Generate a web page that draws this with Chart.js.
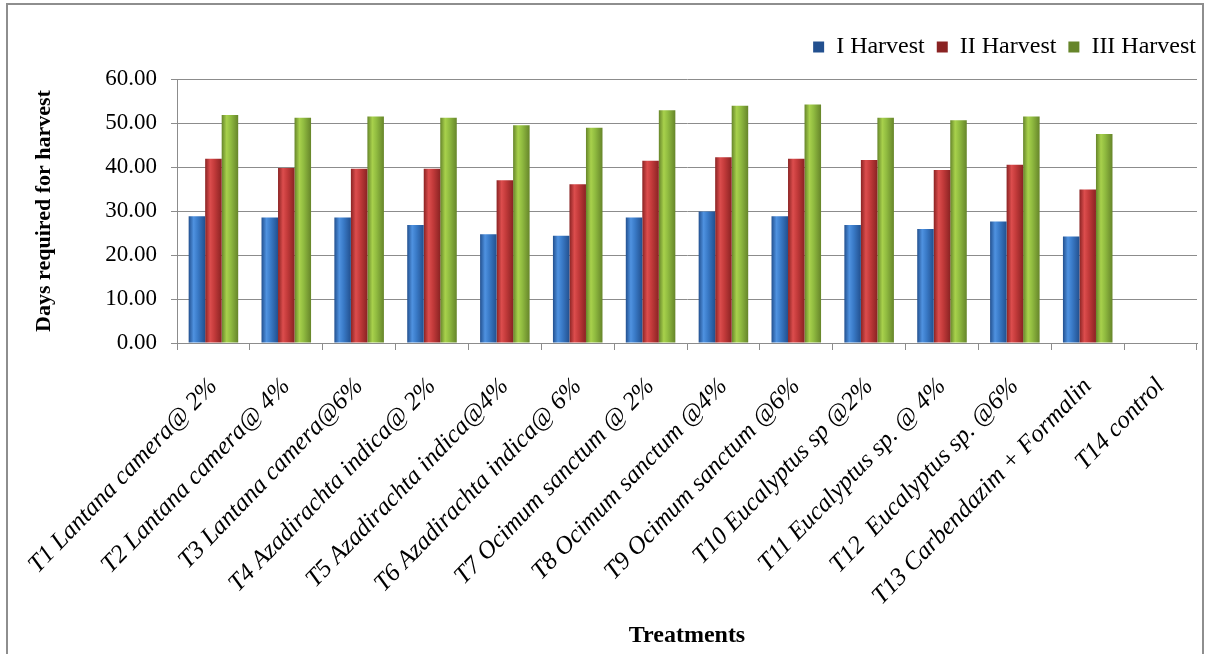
<!DOCTYPE html>
<html>
<head>
<meta charset="utf-8">
<script src="https://cdn.jsdelivr.net/npm/chart.js@4"></script>
<style>
  body { margin: 0; background: #fff; overflow: hidden; }
  #frame { position: absolute; left: 6px; top: 3px; width: 1194px; height: 660px;
           border: 2px solid #8e8e8e; border-bottom: none; }
  #wrap { position: absolute; left: 0; top: 0; width: 1205px; height: 654px; }
</style>
</head>
<body>
<div id="frame"></div>
<div id="wrap"><canvas id="graph"></canvas></div>
<script>
const TREATMENTS = [
    "T1 Lantana camera@ 2%",
    "T2 Lantana camera@ 4%",
    "T3 Lantana camera@6%",
    "T4 Azadirachta indica@ 2%",
    "T5 Azadirachta indica@4%",
    "T6 Azadirachta indica@ 6%",
    "T7 Ocimum sanctum @ 2%",
    "T8 Ocimum sanctum @4%",
    "T9 Ocimum sanctum @6%",
    "T10 Eucalyptus sp @2%",
    "T11 Eucalyptus sp. @ 4%",
    "T12  Eucalyptus sp. @6%",
    "T13 Carbendazim + Formalin",
    "T14 control"
];
const HARVEST_1 = [28.8, 28.5, 28.5, 26.8, 24.7, 24.4, 28.5, 29.9, 28.8, 26.8, 25.9, 27.6, 24.2, null];
const HARVEST_2 = [41.9, 39.8, 39.6, 39.6, 37.0, 36.1, 41.4, 42.2, 41.9, 41.6, 39.3, 40.5, 34.9, null];
const HARVEST_3 = [51.8, 51.2, 51.5, 51.2, 49.5, 48.9, 52.9, 53.9, 54.2, 51.2, 50.6, 51.5, 47.5, null];
const SERIES = ["I Harvest", "II Harvest", "III Harvest"];
const Y_TICKS = [0, 10, 20, 30, 40, 50, 60];

const CAT_PCT = 0.68;
const SERIF = "'Liberation Serif', 'Times New Roman', serif";

// dark edge / light middle, like the office "cylinder" look
const SHADES = [
    { dark: "#22508f", light: "#4f92e0", flat: "#3a7bc8" },
    { dark: "#8a2323", light: "#dc4d4d", flat: "#c43b3b" },
    { dark: "#66852a", light: "#a8d14c", flat: "#90bb40" }
];

function barFill(k) {
    return function (ctx) {
        const s = SHADES[k];
        const chart = ctx.chart;
        const xs = chart.scales.x;
        if (ctx.type !== "data" || !xs || !chart.chartArea) return s.flat;
        const w = (xs.width / TREATMENTS.length) * CAT_PCT / 3;
        const left = xs.getPixelForValue(ctx.dataIndex) + (k - 1.5) * w;
        const g = chart.ctx.createLinearGradient(left, 0, left + w, 0);
        g.addColorStop(0, s.dark);
        g.addColorStop(0.3, s.light);
        g.addColorStop(0.55, s.flat);
        g.addColorStop(1, s.dark);
        return g;
    };
}

// extra room under the legend, and push it to the right edge
const legendSpace = {
    id: "legendSpace",
    beforeInit(chart) {
        const fit = chart.legend.fit;
        chart.legend.fit = function () {
            fit.call(this);
            this.height += 10;
        };
    },
    afterUpdate(chart) {
        chart.legend.left += 11;
        chart.legend.right += 11;
    }
};

const IDG = document.getElementById("graph").getContext("2d");
const myChart = new Chart(IDG, {
    type: "bar",
    data: {
        labels: TREATMENTS,
        datasets: [HARVEST_1, HARVEST_2, HARVEST_3].map((vals, k) => ({
            label: SERIES[k],
            data: vals,
            backgroundColor: barFill(k),
            borderWidth: 0,
            categoryPercentage: CAT_PCT,
            barPercentage: 1
        }))
    },
    options: {
        responsive: true,
        maintainAspectRatio: false,
        animation: false,
        layout: { padding: { left: 10, right: 8, top: 23, bottom: 4 } },
        scales: {
            x: {
                grid: { offset: true, drawOnChartArea: false, tickLength: 7, color: "#8c8c8c" },
                border: { color: "#8c8c8c" },
                ticks: {
                    autoSkip: false, maxRotation: 46, minRotation: 46, padding: 22, color: "#000",
                    font: { family: SERIF, size: 25, style: "italic" }
                },
                title: {
                    display: true, text: "Treatments", color: "#000",
                    font: { family: SERIF, size: 24, weight: "bold" },
                    padding: { top: 0, bottom: 0 }
                },
                afterFit(scale) { scale.height = 654 - 343 - 4; }
            },
            y: {
                min: 0, max: 60,
                afterBuildTicks(scale) { scale.ticks = Y_TICKS.map(v => ({ value: v })); },
                grid: { color: "#8c8c8c", tickLength: 6 },
                border: { color: "#8c8c8c" },
                ticks: {
                    color: "#000", padding: 14,
                    font: { family: SERIF, size: 23 },
                    callback: v => Number(v).toFixed(2)
                },
                title: {
                    display: true, text: "Days required for harvest", color: "#000",
                    font: { family: SERIF, size: 22, weight: "bold" },
                    padding: { top: 21, bottom: 0 }
                },
                afterFit(scale) { scale.width = 177 - 10; }
            }
        },
        plugins: {
            tooltip: { enabled: false },
            legend: {
                display: true, position: "top", align: "end",
                labels: {
                    color: "#000", boxWidth: 11, boxHeight: 11, padding: 12,
                    font: { family: SERIF, size: 24 }
                }
            }
        }
    },
    plugins: [legendSpace]
});
</script>
</body>
</html>
